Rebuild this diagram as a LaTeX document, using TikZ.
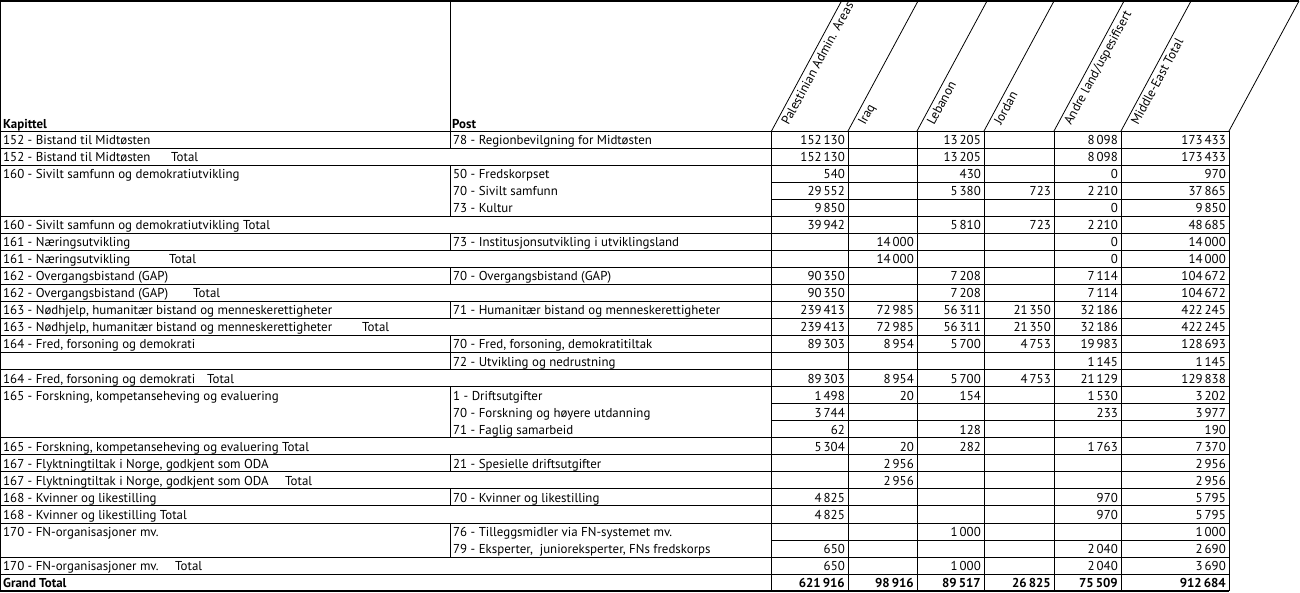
\documentclass[tikz,border=0pt]{standalone}
\usepackage{fontspec}
\setmainfont{PT Sans}
\usepackage{tikz}
\usetikzlibrary{calc}
\tikzset{cell/.style={anchor=base west, inner sep=0}}
\tikzset{num/.style={anchor=base east, inner sep=0}}
\tikzset{rule/.style={black, line width=.8pt}}
\tikzset{colhead/.style={anchor=base west, inner sep=0, rotate=61.6}}
\newcommand{\ry}[1]{(131+17.04*(#1-1))}
\newcommand{\kap}[2]{\node[cell] (k#1) at (3,{\ry{#1}+13.5}) {#2};}
\newcommand{\post}[2]{\node[cell] (p#1) at (453,{\ry{#1}+13.5}) {#2};}
\newcommand{\tot}[3]{\node[cell] (k#1) at (3,{\ry{#1}+13.5}) {\makebox[#2pt][l]{#3}Total};}
\newcommand{\vals}[7]{%
\node[num] (a#1) at (845,{\ry{#1}+13.5}) {#2};
\node[num] (b#1) at (914,{\ry{#1}+13.5}) {#3};
\node[num] (c#1) at (981,{\ry{#1}+13.5}) {#4};
\node[num] (d#1) at (1051,{\ry{#1}+13.5}) {#5};
\node[num] (e#1) at (1118,{\ry{#1}+13.5}) {#6};
\node[num] (f#1) at (1226,{\ry{#1}+13.5}) {#7};}

\begin{document}
\begin{tikzpicture}[x=1pt, y=-1pt, font=\fontsize{12.9}{14}\selectfont]
\useasboundingbox (0,0) rectangle (1300,592);

% header frame
\draw[black, line width=1.2pt] (0,1) -- (1299,1);
\draw[rule] (0,1) -- (0,{\ry{28}});
\draw[rule] (450,1) -- (450,{\ry{2}});
\foreach \c in {771.5,848,917,984,1054,1121,1229}
  \draw[rule] (\c,{\ry{1}}) -- ++(70,-130);

\node[cell, font=\fontsize{12.9}{14}\selectfont\bfseries] (kh) at (3,128) {Kapittel};
\node[cell, font=\fontsize{12.9}{14}\selectfont\bfseries] (ph) at (452,128) {Post};
\node[colhead] (h1) at (788.5,126) {Palestinian Admin. Areas};
\node[colhead] (h2) at (865,126) {Iraq};
\node[colhead] (h3) at (934,126) {Lebanon};
\node[colhead] (h4) at (1001,126) {Jordan};
\node[colhead] (h5) at (1071,126) {Andre land/uspesifisert};
\node[colhead] (h6) at (1138,126) {Middle-East Total};

% grid
\foreach \i in {1,...,27}
  \draw[rule] (771.5,{\ry{\i}}) -- (1229,{\ry{\i}});
\foreach \i in {1,2,3,6,7,8,9,10,11,12,13,14,15,16,19,20,21,22,23,24,26,27}
  \draw[rule] (0,{\ry{\i}}) -- (771.5,{\ry{\i}});
\foreach \c in {771.5,848,917,984,1054,1121,1229}
  \draw[rule] (\c,{\ry{1}}) -- (\c,{\ry{28}});
\foreach \a/\b in {3/6,7/8,9/10,11/12,13/15,16/19,20/21,22/23,24/26}
  \draw[rule] (450,{\ry{\a}}) -- (450,{\ry{\b}});
\draw[black, line width=1.6pt] (0,{\ry{28}}) -- (1229.4,{\ry{28}});

% rows
\kap{1}{152 - Bistand til Midtøsten}
\post{1}{78 - Regionbevilgning for Midtøsten}
\vals{1}{152\,130}{}{13\,205}{}{8\,098}{173\,433}
\tot{2}{168}{152 - Bistand til Midtøsten}
\vals{2}{152\,130}{}{13\,205}{}{8\,098}{173\,433}
\kap{3}{160 - Sivilt samfunn og demokratiutvikling}
\post{3}{50 - Fredskorpset}
\vals{3}{540}{}{430}{}{0}{970}
\post{4}{70 - Sivilt samfunn}
\vals{4}{29\,552}{}{5\,380}{723}{2\,210}{37\,865}
\post{5}{73 - Kultur}
\vals{5}{9\,850}{}{}{}{0}{9\,850}
\kap{6}{160 - Sivilt samfunn og demokratiutvikling Total}
\vals{6}{39\,942}{}{5\,810}{723}{2\,210}{48\,685}
\kap{7}{161 - Næringsutvikling}
\post{7}{73 - Institusjonsutvikling i utviklingsland}
\vals{7}{}{14\,000}{}{}{0}{14\,000}
\tot{8}{166}{161 - Næringsutvikling}
\vals{8}{}{14\,000}{}{}{0}{14\,000}
\kap{9}{162 - Overgangsbistand (GAP)}
\post{9}{70 - Overgangsbistand (GAP)}
\vals{9}{90\,350}{}{7\,208}{}{7\,114}{104\,672}
\tot{10}{190}{162 - Overgangsbistand (GAP)}
\vals{10}{90\,350}{}{7\,208}{}{7\,114}{104\,672}
\kap{11}{163 - Nødhjelp, humanitær bistand og menneskerettigheter}
\post{11}{71 - Humanitær bistand og menneskerettigheter}
\vals{11}{239\,413}{72\,985}{56\,311}{21\,350}{32\,186}{422\,245}
\tot{12}{359}{163 - Nødhjelp, humanitær bistand og menneskerettigheter}
\vals{12}{239\,413}{72\,985}{56\,311}{21\,350}{32\,186}{422\,245}
\kap{13}{164 - Fred, forsoning og demokrati}
\post{13}{70 - Fred, forsoning, demokratitiltak}
\vals{13}{89\,303}{8\,954}{5\,700}{4\,753}{19\,983}{128\,693}
\post{14}{72 - Utvikling og nedrustning}
\vals{14}{}{}{}{}{1\,145}{1\,145}
\tot{15}{204}{164 - Fred, forsoning og demokrati}
\vals{15}{89\,303}{8\,954}{5\,700}{4\,753}{21\,129}{129\,838}
\kap{16}{165 - Forskning, kompetanseheving og evaluering}
\post{16}{1 - Driftsutgifter}
\vals{16}{1\,498}{20}{154}{}{1\,530}{3\,202}
\post{17}{70 - Forskning og høyere utdanning}
\vals{17}{3\,744}{}{}{}{233}{3\,977}
\post{18}{71 - Faglig samarbeid}
\vals{18}{62}{}{128}{}{}{190}
\kap{19}{165 - Forskning, kompetanseheving og evaluering Total}
\vals{19}{5\,304}{20}{282}{}{1\,763}{7\,370}
\kap{20}{167 - Flyktningtiltak i Norge, godkjent som ODA}
\post{20}{21 - Spesielle driftsutgifter}
\vals{20}{}{2\,956}{}{}{}{2\,956}
\tot{21}{282}{167 - Flyktningtiltak i Norge, godkjent som ODA}
\vals{21}{}{2\,956}{}{}{}{2\,956}
\kap{22}{168 - Kvinner og likestilling}
\post{22}{70 - Kvinner og likestilling}
\vals{22}{4\,825}{}{}{}{970}{5\,795}
\kap{23}{168 - Kvinner og likestilling Total}
\vals{23}{4\,825}{}{}{}{970}{5\,795}
\kap{24}{170 - FN-organisasjoner mv.}
\post{24}{76 - Tilleggsmidler via FN-systemet mv.}
\vals{24}{}{}{1\,000}{}{}{1\,000}
\post{25}{79 - Eksperter,\ \ junioreksperter, FNs fredskorps}
\vals{25}{650}{}{}{}{2\,040}{2\,690}
\tot{26}{172}{170 - FN-organisasjoner mv.}
\vals{26}{650}{}{1\,000}{}{2\,040}{3\,690}
\kap{27}{\textbf{Grand Total}}
\vals{27}{\textbf{621\,916}}{\textbf{98\,916}}{\textbf{89\,517}}{\textbf{26\,825}}{\textbf{75\,509}}{\textbf{912\,684}}
\end{tikzpicture}
\end{document}
